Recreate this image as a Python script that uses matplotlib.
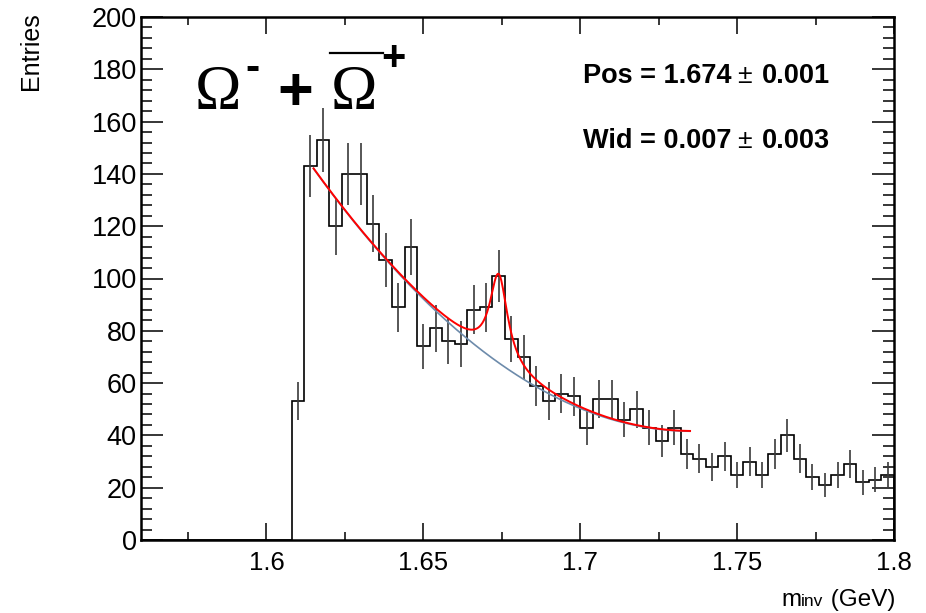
import numpy as np
import matplotlib
matplotlib.use('Agg')
import matplotlib.pyplot as plt
from matplotlib.lines import Line2D
from matplotlib.ticker import MultipleLocator

# invariant mass histogram, 4 MeV bins from 1.56 to 1.8 GeV (empty below 1.608)
bin_lo = 1.56
bin_w = 0.004
n_empty = 12
counts_filled = [53, 143, 153, 120, 140, 140, 121, 107, 89, 112, 74, 81,
                 76, 75, 88, 89, 101, 77, 70, 59, 53, 56, 55, 43,
                 54, 54, 46, 50, 43, 38, 43, 33, 31, 28, 32, 25,
                 30, 25, 33, 40, 31, 24, 21, 25, 29, 22, 23, 25]

# fit: quadratic background + Breit-Wigner peak
fit_lo, fit_hi = 1.615, 1.735
bkg_ref = 1.615
bkg_pars = [142.0, -1665.7, 6908.0]
peak_pos = 1.674
peak_wid = 0.007
peak_amp = 34.0

x_ticks = [1.6, 1.65, 1.7, 1.75, 1.8]
x_tick_labels = ['1.6', '1.65', '1.7', '1.75', '1.8']
y_ticks = list(range(0, 201, 20))

W, H = 926, 613
plt.rcParams['font.family'] = ['Liberation Sans', 'DejaVu Sans']

fig = plt.figure(figsize=(W / 100, H / 100), dpi=100)
ax = fig.add_axes([141 / W, 1 - 540 / H, 753 / W, 523 / H])


def px(x, y):
    return x / W, 1 - y / H


counts = np.array([0] * n_empty + counts_filled, dtype=float)
edges = bin_lo + bin_w * np.arange(len(counts) + 1)
ax.stairs(counts, edges, color='black', lw=1.2, baseline=0)

filled = np.array(counts_filled, dtype=float)
centers = 0.5 * (edges[n_empty:-1] + edges[n_empty + 1:])
ax.errorbar(centers, filled, yerr=np.sqrt(filled), fmt='none',
            ecolor='#3a3a3a', elinewidth=1.2)

xs = np.linspace(fit_lo, fit_hi, 500)
u = xs - bkg_ref
bkg = bkg_pars[0] + bkg_pars[1] * u + bkg_pars[2] * u ** 2
hw = peak_wid / 2
peak = peak_amp * hw ** 2 / ((xs - peak_pos) ** 2 + hw ** 2)
ax.plot(xs, bkg, color='#6d8bab', lw=1.2)
ax.plot(xs, bkg + peak, color='red', lw=1.4)

ax.set_xlim(1.56, 1.8)
ax.set_ylim(0, 200)
ax.set_xticks(x_ticks)
ax.set_xticklabels(x_tick_labels)
ax.set_yticks(y_ticks)
ax.xaxis.set_minor_locator(MultipleLocator(0.025))
ax.yaxis.set_minor_locator(MultipleLocator(4))
ax.tick_params(which='both', direction='in', top=True, right=True, width=1.1)
ax.tick_params(axis='x', which='major', length=12, pad=8, labelsize=18.5)
ax.tick_params(axis='x', which='minor', length=6)
ax.tick_params(axis='y', which='major', length=16, pad=3, labelsize=19.5)
ax.tick_params(axis='y', which='minor', length=8)
for s in ax.spines.values():
    s.set_linewidth(1.8)

# axis titles
fig.text(*px(31, 12), 'Entries', rotation=90, fontsize=18,
         ha='center', va='top')
renderer = fig.canvas.get_renderer()
xpos = 781
for txt, size in [('m', 17.5), ('inv', 12.5), (' (GeV)', 17.5)]:
    t = fig.text(*px(xpos, 606), txt, fontsize=size, ha='left', va='baseline')
    xpos += t.get_window_extent(renderer).width

# particle label
serif = ['Liberation Serif', 'DejaVu Serif']
fig.text(*px(195, 109), '\u03a9', fontsize=45, family=serif, va='baseline')
fig.text(*px(245, 80), '-', fontsize=31, weight='bold', va='baseline')
fig.text(*px(277, 110), '+', fontsize=44, weight='bold', va='baseline')
fig.text(*px(331, 109), '\u03a9', fontsize=45, family=serif, va='baseline')
fig.add_artist(Line2D([330 / W, 383 / W], [1 - 53 / H, 1 - 53 / H],
                      color='black', lw=1.6))
fig.text(*px(381, 70), '+', fontsize=30, weight='bold', va='baseline')

# fit results
for y, name, val, err in [(83, 'Pos', '1.674', '0.001'),
                          (148, 'Wid', '0.007', '0.003')]:
    fig.text(*px(583, y), f'{name} = {val}', fontsize=19.5, weight='bold',
             va='baseline')
    fig.text(*px(737, y), '\u00b1', fontsize=19, va='baseline')
    fig.text(*px(762, y), err, fontsize=19.5, weight='bold', va='baseline')

fig.savefig('out.png', dpi=100)
